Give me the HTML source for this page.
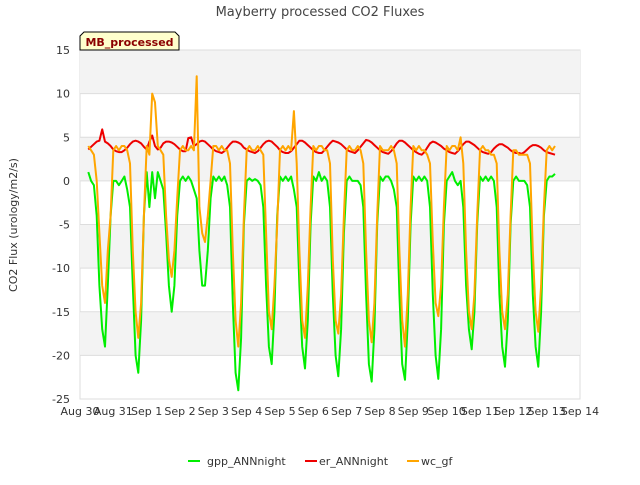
<!DOCTYPE html>
<html><head><meta charset="utf-8"><style>
body{margin:0;background:#fff;}
svg{font-family:"DejaVu Sans","Liberation Sans",sans-serif;}
</style></head><body>
<svg id="chart" width="640" height="480" viewBox="0 0 640 480">
<text x="320" y="16" text-anchor="middle" font-size="13" fill="#444">Mayberry processed CO2 Fluxes</text>
<g id="bands"></g>
<g id="grid"></g>
<g id="yticks"></g>
<g id="xticks"></g>
<text transform="translate(17,225) rotate(-90)" text-anchor="middle" font-size="11" fill="#333">CO2 Flux (urology/m2/s)</text>
<g id="series"></g>
<g>
<path d="M80,50 L80,36 L84,32 L175,32 L179,36 L179,50 Z" fill="#ffffcc" stroke="#000" stroke-width="1"/>
<text x="129.5" y="46" text-anchor="middle" font-size="11" font-weight="bold" fill="#8b0000">MB_processed</text>
</g>
<g>
<g><line x1="188" y1="461" x2="200" y2="461" stroke="#00ee00" stroke-width="2"/><text x="207" y="465" font-size="11" fill="#333">gpp_ANNnight</text></g>
<g><line x1="305" y1="461" x2="317" y2="461" stroke="#ee0000" stroke-width="2"/><text x="319" y="465" font-size="11" fill="#333">er_ANNnight</text></g>
<g><line x1="407" y1="461" x2="419" y2="461" stroke="#ffa500" stroke-width="2"/><text x="421" y="465" font-size="11" fill="#333">wc_gf</text></g>
</g>
</svg>
<script>
const xTickLabels = ["Aug 30","Aug 31","Sep 1","Sep 2","Sep 3","Sep 4","Sep 5","Sep 6","Sep 7","Sep 8","Sep 9","Sep 10","Sep 11","Sep 12","Sep 13","Sep 14"];
const yTickValues = [15,10,5,0,-5,-10,-15,-20,-25];
const startDay = 0.25;
const stepDays = 1/12;
const gppValues = [
1,0,-0.5,-4,-12,-17,-19,-12,-4,0,0,-0.5,
0,0.5,-1,-3,-12,-20,-22,-16,-4,1,-3,1,
-2,1,0,-1,-6,-12,-15,-12,-4,0,0.5,0,
0.5,0,-1,-2,-8,-12,-12,-8,-2,0.5,0,0.5,
0,0.5,-0.5,-3,-14,-22,-24,-18,-5,0,0.3,0,
0.2,0,-0.5,-3,-12,-19,-21,-15,-4,0.5,0,0.5,
0,0.5,-1,-3,-12,-19,-21.5,-16,-5,0.5,0,1,
0,0.5,0,-3,-13,-20,-22.4,-17,-6,0,0.5,0,
0,0,-0.5,-3,-13,-21,-23,-17,-5,0.5,0,0.5,
0.5,0,-1,-3,-13,-21,-22.8,-16,-5,0.5,0,0.5,
0,0.5,0,-3,-13,-20,-22.7,-17,-5,0,0.5,1,
0,-0.5,0,-3,-12,-17,-19.3,-15,-5,0.5,0,0.5,
0,0.5,0,-3,-13,-19,-21.3,-16,-5,0,0.5,0,
0,0,-0.5,-3,-13,-19,-21.3,-15,-4,0,0.5,0.5,
0.8];
const erValues = [
3.6,3.9,4.2,4.5,4.6,5.9,4.5,4.3,4.0,3.6,3.4,3.3,
3.3,3.5,3.8,4.2,4.5,4.6,4.5,4.3,3.9,3.6,4.5,5.2,
4.0,3.6,3.8,4.3,4.5,4.5,4.4,4.2,3.9,3.6,3.4,3.4,
4.9,5.0,4.0,4.2,4.5,4.6,4.5,4.2,3.9,3.6,3.4,3.3,
3.2,3.4,3.8,4.2,4.5,4.5,4.4,4.2,3.8,3.6,3.4,3.3,
3.2,3.4,3.8,4.2,4.5,4.6,4.5,4.2,3.9,3.5,3.3,3.2,
3.2,3.4,3.8,4.2,4.6,4.6,4.4,4.1,3.8,3.5,3.3,3.2,
3.2,3.5,3.9,4.3,4.6,4.5,4.4,4.2,3.9,3.6,3.4,3.3,
3.2,3.5,3.9,4.3,4.7,4.6,4.4,4.1,3.8,3.5,3.3,3.2,
3.1,3.4,3.8,4.3,4.6,4.6,4.4,4.1,3.8,3.5,3.3,3.1,
3.0,3.3,3.8,4.3,4.5,4.4,4.2,4.0,3.7,3.5,3.3,3.2,
3.1,3.4,3.8,4.2,4.5,4.5,4.3,4.1,3.8,3.5,3.3,3.2,
3.1,3.3,3.7,4.0,4.2,4.2,4.0,3.8,3.5,3.3,3.2,3.2,
3.1,3.3,3.6,3.9,4.1,4.1,4.0,3.8,3.5,3.3,3.2,3.1,
3.0];
const wcValues = [
4,3.5,3,0,-6,-12,-14,-8,-4,3.5,4,3.5,
4,4,3.5,2,-8,-15,-18,-14,-4,4,3,10,
9,4,3.5,3,-4,-9,-11,-8,-2,3.5,4,3.5,
3.5,4,3.5,12,-3,-6,-7,-4,0,4,4,3.5,
4,3.5,3.5,2,-8,-16,-19,-14,-4,3.5,4,3.5,
3.5,4,3.5,3,-6,-15,-17,-12,-5,3.5,4,3.5,
4,3.5,8,2,-8,-16,-18,-12,-3,4,3.5,4,
4,3.5,3.5,2,-9,-16,-17.5,-13,-4,3.5,4,3.5,
3.5,4,3.5,2,-8,-16,-18.5,-14,-4,4,3.5,3.5,
3.5,4,3.5,2,-8,-16,-19,-13,-3,4,3.5,4,
3.5,3.5,3,2,-7,-14,-15.5,-12,-3,4,3.5,4,
4,3.5,5,2,-8,-15,-17,-13,-4,3.5,4,3.5,
3.5,3,3,2,-8,-15,-17,-13,-4,3.5,3.5,3,
3,3,3,2,-8,-15,-17.3,-12,-3,3.5,4,3.5,
4];
const NS="http://www.w3.org/2000/svg";
const X0=80,X1=580,Y0=50,Y1=399,D0=0,D1=15,V0=15,V1=-25;
function xs(d){return X0+(d-D0)/(D1-D0)*(X1-X0);}
function ys(v){return Y0+(v-V0)/(V1-V0)*(Y1-Y0);}
function mk(tag,attrs,parent){const e=document.createElementNS(NS,tag);for(const k in attrs)e.setAttribute(k,attrs[k]);parent.appendChild(e);return e;}
const bands=document.getElementById('bands');
const r0=mk('rect',{x:X0,y:Y0,width:X1-X0,height:Y1-Y0,fill:'#fff',stroke:'#ddd'},bands);


for(let i=0;i<yTickValues.length-1;i+=2){
  const a=ys(yTickValues[i]),b=ys(yTickValues[i+1]);
  const r=mk('rect',{x:X0,y:a,width:X1-X0,height:b-a,fill:'#f3f3f3'},bands);
  
  
}
const grid=document.getElementById('grid'),yt=document.getElementById('yticks'),xt=document.getElementById('xticks');
yTickValues.forEach(v=>{
  const y=ys(v);
  const l=mk('line',{x1:X0,x2:X1,y1:y,y2:y,stroke:'#ddd','stroke-width':1},grid);
  
  
  const t=mk('text',{x:X0-10,y:y+4,'text-anchor':'end','font-size':11,fill:'#333'},yt);
  t.textContent=v;
  
  
});
xTickLabels.forEach((s,i)=>{
  const t=mk('text',{x:xs(i),y:415,'text-anchor':'middle','font-size':11,fill:'#333'},xt);
  t.textContent=s;
  
  
});
const sg=document.getElementById('series');
function line(vals,color,name){
  const pts=vals.map((v,i)=>xs(startDay+i*stepDays).toFixed(1)+','+ys(v).toFixed(1)).join(' ');
  const p=mk('polyline',{points:pts,fill:'none',stroke:color,'stroke-width':2,'stroke-linejoin':'round'},sg);
  
  
}
line(gppValues,'#00ee00','gpp-annnight-line');
line(erValues,'#ee0000','er-annnight-line');
line(wcValues,'#ffa500','wc-gf-line');
</script>
</body></html>
